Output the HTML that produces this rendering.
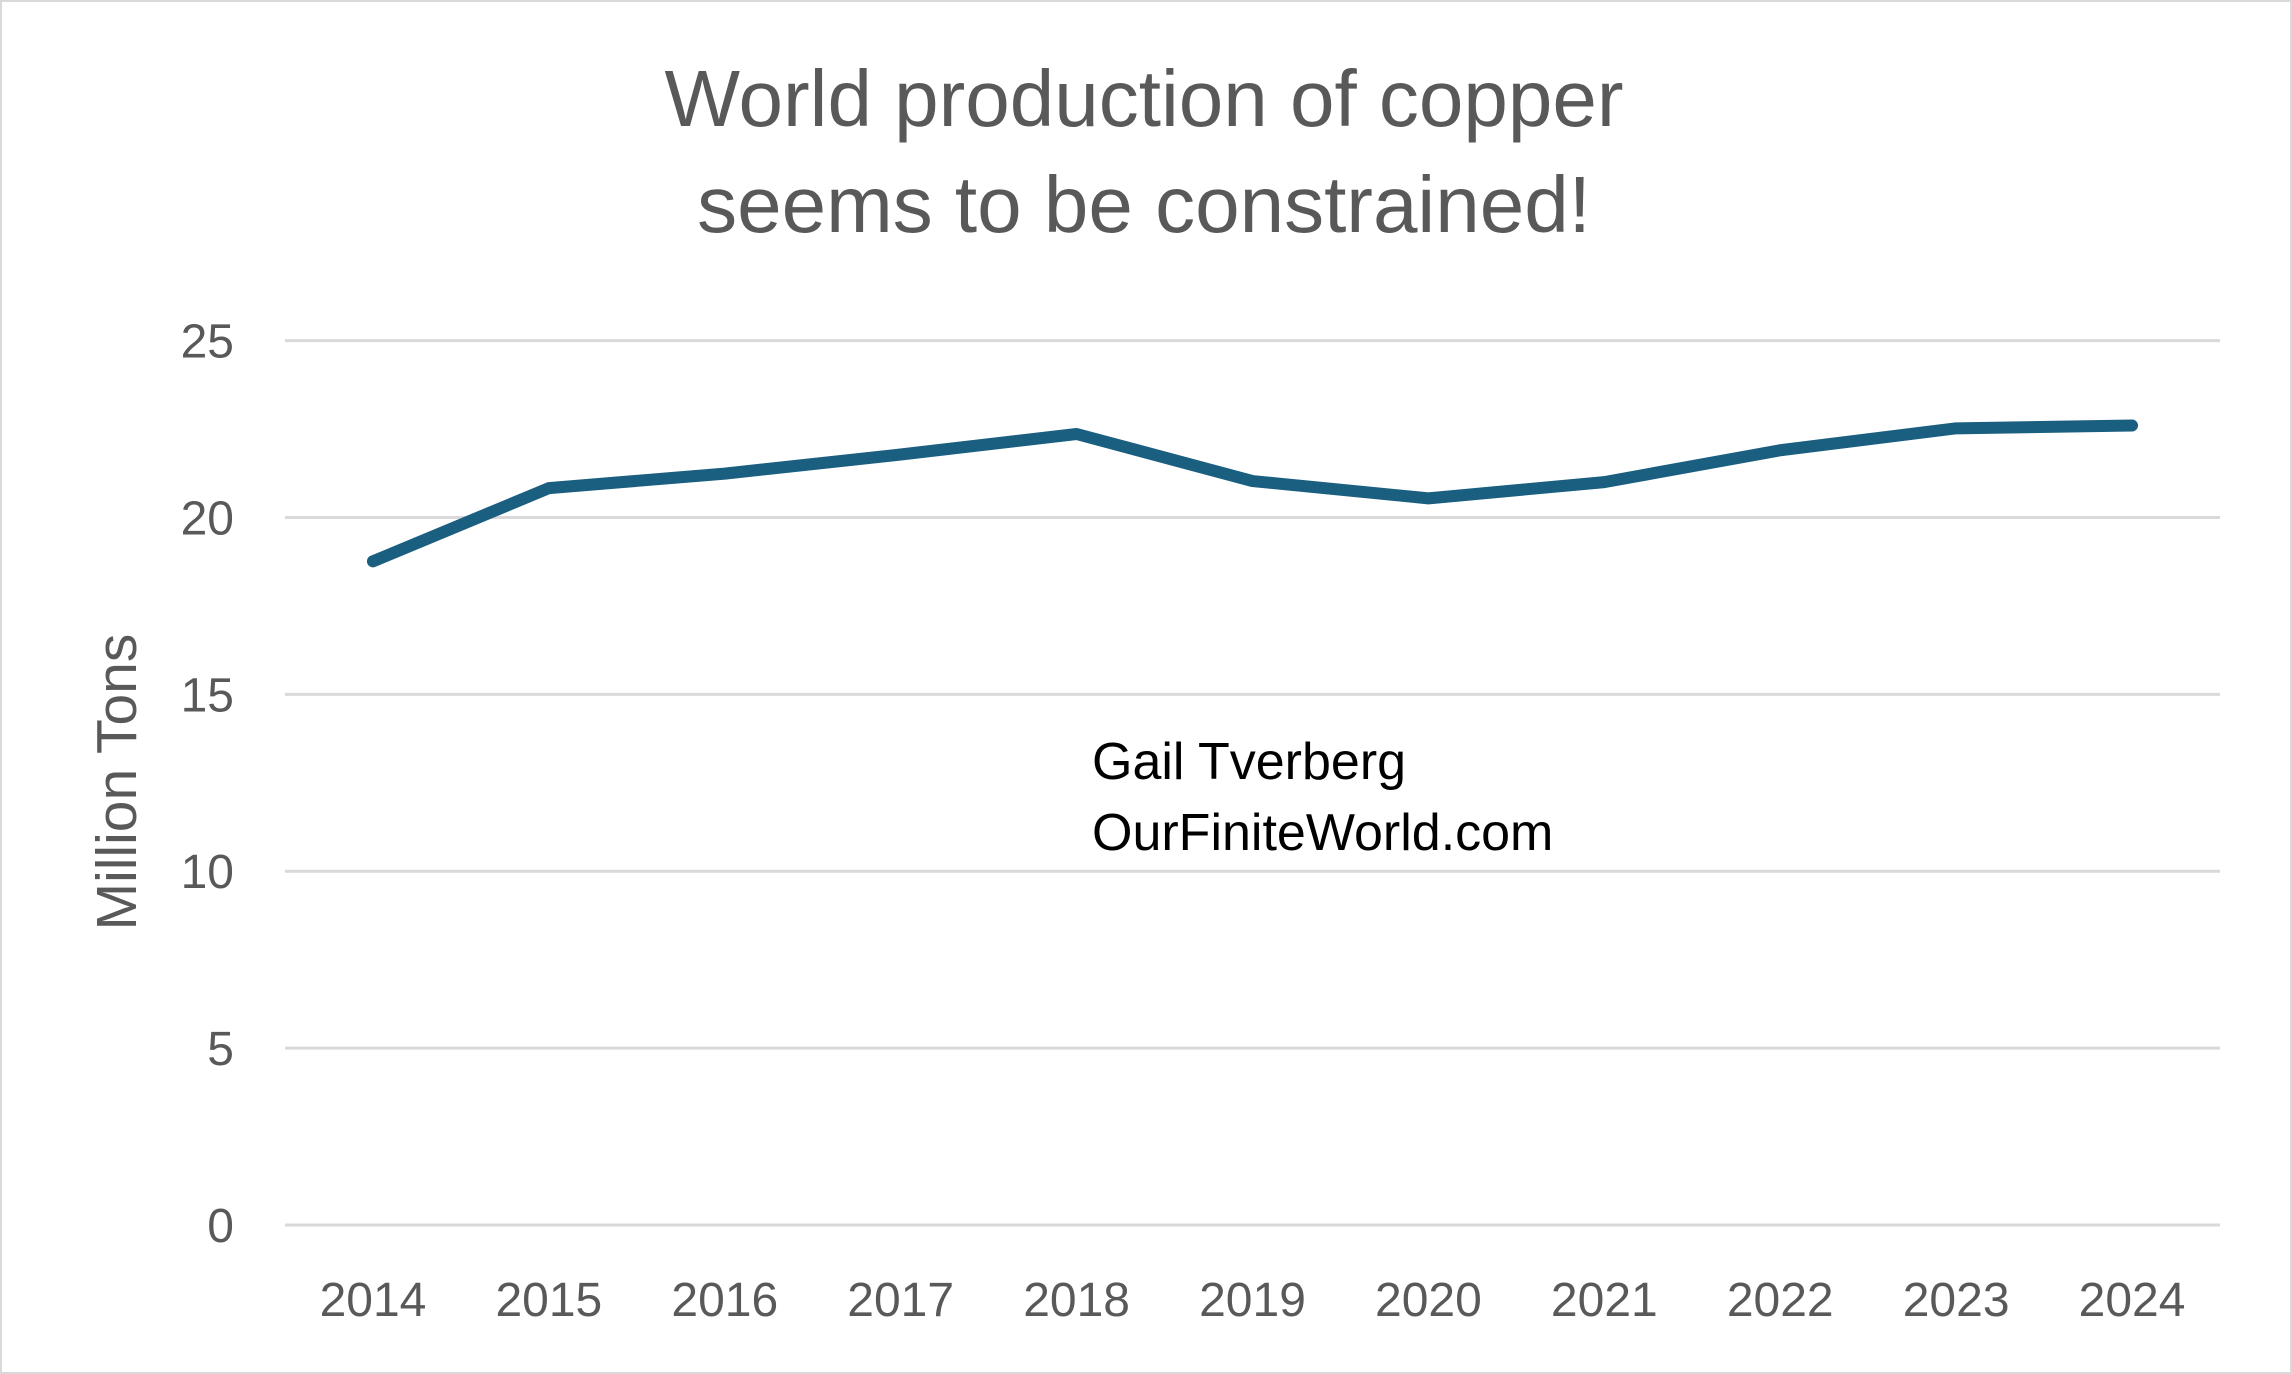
<!DOCTYPE html>
<html><head><meta charset="utf-8"><style>
html,body{margin:0;padding:0;background:#fff;}
svg{display:block;font-family:"Liberation Sans",sans-serif;}
</style></head><body>
<svg id="chart" width="2292" height="1374" viewBox="0 0 2292 1374">
<rect x="1" y="1" width="2290" height="1372" fill="#fff" stroke="#d9d9d9" stroke-width="2"/>
<text x="1144" y="126" text-anchor="middle" font-size="80" fill="#595959">World production of copper</text>
<text x="1144" y="232" text-anchor="middle" font-size="80" fill="#595959">seems to be constrained!</text>
<text transform="translate(136,782) rotate(-90)" text-anchor="middle" font-size="57" fill="#595959">Million Tons</text>
<text x="1092" y="779" font-size="52" fill="#000">Gail Tverberg</text>
<text x="1092" y="850" font-size="52" fill="#000">OurFiniteWorld.com</text>
<g id="grid"></g><g id="yticks"></g><g id="xticks"></g><g id="series"></g>
</svg>
<script>
const years=["2014","2015","2016","2017","2018","2019","2020","2021","2022","2023","2024"];
const production=[18.76,20.83,21.24,21.78,22.36,21.03,20.54,21.0,21.9,22.52,22.6];
const yTicks=[0,5,10,15,20,25];
const NS="http://www.w3.org/2000/svg";
const x0=285,x1=2220,yTop=340.6,yBot=1225,yMax=25;
const step=(x1-x0)/years.length;
function xs(i){return x0+step*(i+0.5);}
function ys(v){return yBot-(v/yMax)*(yBot-yTop);}
const grid=document.getElementById('grid'),yt=document.getElementById('yticks'),xt=document.getElementById('xticks'),ser=document.getElementById('series');
yTicks.forEach(v=>{
 const l=document.createElementNS(NS,'line');
 
 
 l.setAttribute('x1',x0);l.setAttribute('x2',x1);l.setAttribute('y1',ys(v));l.setAttribute('y2',ys(v));
 l.setAttribute('stroke','#d9d9d9');l.setAttribute('stroke-width','3');grid.appendChild(l);
 const t=document.createElementNS(NS,'text');
 
 
 t.setAttribute('x',234);t.setAttribute('y',ys(v)+17);t.setAttribute('text-anchor','end');
 t.setAttribute('font-size','48');t.setAttribute('fill','#595959');t.textContent=v;yt.appendChild(t);
});
years.forEach((y,i)=>{
 const t=document.createElementNS(NS,'text');
 
 
 t.setAttribute('x',xs(i));t.setAttribute('y',1316);t.setAttribute('text-anchor','middle');
 t.setAttribute('font-size','48');t.setAttribute('fill','#595959');t.textContent=y;xt.appendChild(t);
});
const p=document.createElementNS(NS,'polyline');


p.setAttribute('points',production.map((v,i)=>xs(i)+','+ys(v)).join(' '));
p.setAttribute('fill','none');p.setAttribute('stroke','#1a5e80');p.setAttribute('stroke-width','12');
p.setAttribute('stroke-linecap','round');p.setAttribute('stroke-linejoin','round');
ser.appendChild(p);
</script>
</body></html>
